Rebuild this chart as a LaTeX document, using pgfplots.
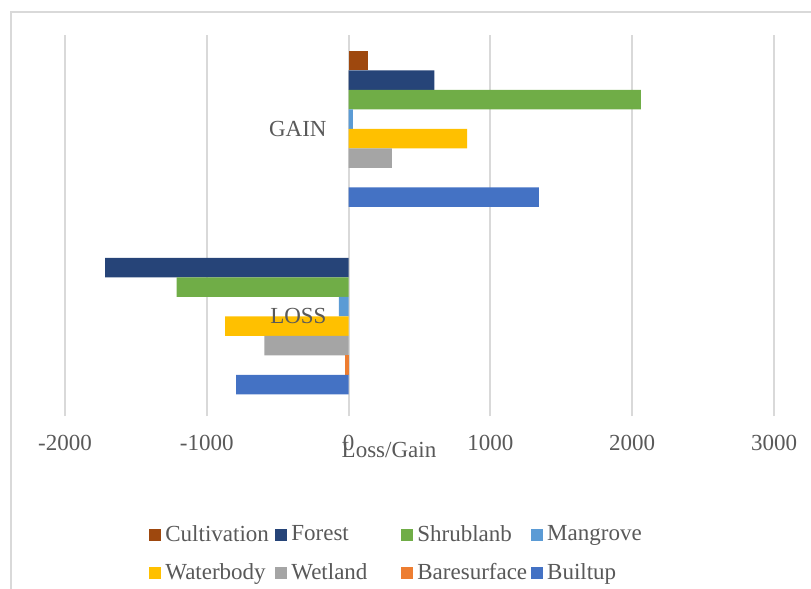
\documentclass[border=0pt]{standalone}
\usepackage{pgfplots}
\pgfplotsset{compat=1.18}
\usepackage{fontspec}
\setmainfont{Liberation Serif}
\definecolor{cCult}{RGB}{158,72,14}
\definecolor{cFor}{RGB}{38,68,120}
\definecolor{cShr}{RGB}{112,173,71}
\definecolor{cMan}{RGB}{91,155,213}
\definecolor{cWat}{RGB}{255,192,0}
\definecolor{cWet}{RGB}{165,165,165}
\definecolor{cBar}{RGB}{237,125,49}
\definecolor{cBui}{RGB}{68,114,196}
\definecolor{gridc}{RGB}{217,217,217}
\definecolor{txt}{RGB}{89,89,89}
\begin{document}
\begin{tikzpicture}
\path[use as bounding box] (0,0) rectangle (405.5pt,294.5pt);
\draw[gridc, line width=0.8pt] (5.5pt,0) -- (5.5pt,288.5pt) -- (405.5pt,288.5pt);
\begin{axis}[
  at={(32.5pt,89.5pt)}, anchor=south west,
  scale only axis, width=354.5pt, height=187.5pt,
  xbar, bar width=0.104,
  y dir=reverse,
  xmin=-2000, xmax=3000, ymin=-0.5, ymax=1.5,
  xtick={-2000,-1000,0,1000,2000,3000},
  axis x line*=bottom, x axis line style={draw=none},
  axis y line=none,
  xmajorgrids, grid style={gridc, line width=1pt},
  tick align=outside, major tick length=3pt,
  xtick style={gridc, line width=1pt},
  /pgf/number format/assume math mode=true,
  /pgf/number format/set thousands separator={},
  ticklabel style={font=\fontsize{11.5}{13.5}\selectfont, text=txt},
  xticklabel style={yshift=-6pt},
  xlabel={Loss/Gain},
  xlabel style={at={(axis description cs:0.457,0)}, anchor=north, yshift=-12.5pt, font=\fontsize{11.5}{13.5}\selectfont, text=txt},
  legend columns=4,
  legend style={draw=none, at={(axis description cs:0.11,-0.285)}, anchor=north west,
    font=\fontsize{11.5}{13.5}\selectfont, text=txt, row sep=5.5pt,
    /tikz/every even column/.append style={column sep=0pt}},
  legend cell align=left,
  legend image code/.code={\fill[#1, draw=none] (0pt,-3pt) rectangle (6pt,3pt);},
]
\addplot[fill=cCult, draw=none, bar shift=-0.364] coordinates {(136,0)};
\addlegendentry{\makebox[53pt][l]{Cultivation}}
\addplot[fill=cFor, draw=none, bar shift=-0.26] coordinates {(605,0) (-1717,1)};
\addlegendentry{\makebox[53pt][l]{Forest}}
\addplot[fill=cShr, draw=none, bar shift=-0.156] coordinates {(2061,0) (-1213,1)};
\addlegendentry{\makebox[53pt][l]{Shrublanb}}
\addplot[fill=cMan, draw=none, bar shift=-0.052] coordinates {(30,0) (-69,1)};
\addlegendentry{\makebox[53pt][l]{Mangrove}}
\addplot[fill=cWat, draw=none, bar shift=0.052] coordinates {(836,0) (-871,1)};
\addlegendentry{Waterbody}
\addplot[fill=cWet, draw=none, bar shift=0.156] coordinates {(306,0) (-594,1)};
\addlegendentry{Wetland}
\addplot[fill=cBar, draw=none, bar shift=0.26] coordinates {(-28,1)};
\addlegendentry{Baresurface}
\addplot[fill=cBui, draw=none, bar shift=0.364] coordinates {(1341,0) (-794,1)};
\addlegendentry{Builtup}
\node[anchor=east, text=txt, font=\fontsize{11.5}{13.5}\selectfont, xshift=-7.5pt] at (axis cs:0,0) {GAIN};
\node[anchor=east, text=txt, font=\fontsize{11.5}{13.5}\selectfont, xshift=-7.5pt] at (axis cs:0,1) {LOSS};
\end{axis}
\end{tikzpicture}
\end{document}
